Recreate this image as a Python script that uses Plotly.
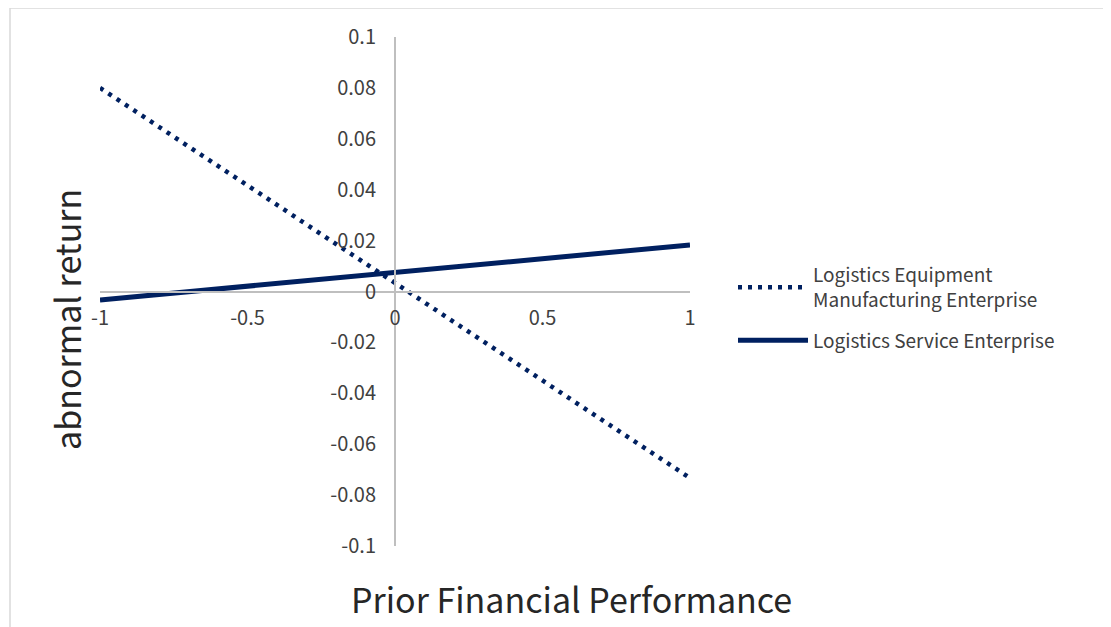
import plotly.graph_objects as go

# Data
x_vals = [-1, 0, 1]
equipment = [0.080, 0.0035, -0.0733]
service = [-0.0033, 0.0075, 0.0183]
series_names = ["Logistics Equipment<br>Manufacturing Enterprise", "Logistics Service Enterprise"]
x_ticks = [-1, -0.5, 0, 0.5, 1]
x_ticktext = ["-1", "-0.5", "0", "0.5", "1"]
y_ticks = [-0.1, -0.08, -0.06, -0.04, -0.02, 0, 0.02, 0.04, 0.06, 0.08, 0.1]
y_ticktext = ["-0.1", "-0.08", "-0.06", "-0.04", "-0.02", "0", "0.02", "0.04", "0.06", "0.08", "0.1"]

navy = "#002060"
font_family = "Noto Sans CJK SC, Noto Sans, sans-serif"

fig = go.Figure()
fig.add_trace(go.Scatter(x=x_vals, y=equipment, mode="lines", name=series_names[0],
                         legendgroup="a",
                         line=dict(color=navy, width=4.5, dash="4px,6px")))
fig.add_trace(go.Scatter(x=x_vals, y=service, mode="lines", name=series_names[1],
                         legendgroup="b",
                         line=dict(color=navy, width=5)))

fig.update_layout(
    width=1111, height=627,
    margin=dict(l=92, r=429, t=29, b=89, autoexpand=False),
    paper_bgcolor="white", plot_bgcolor="white",
    font=dict(family=font_family, color="#404040", size=20),
    xaxis=dict(range=[-1, 1], anchor="free", position=0.5, showgrid=False, zeroline=False,
               showline=True, linecolor="#bfbfbf", linewidth=2,
               tickmode="array", tickvals=x_ticks, ticktext=x_ticktext,
               ticks="outside", ticklen=8, tickcolor="rgba(0,0,0,0)",
               tickfont=dict(size=20, color="#404040")),
    yaxis=dict(range=[-0.1, 0.1], anchor="free", position=0.5, showgrid=False, zeroline=False,
               showline=True, linecolor="#bfbfbf", linewidth=2,
               tickmode="array", tickvals=y_ticks, ticktext=y_ticktext,
               ticks="outside", ticklen=14, tickcolor="rgba(0,0,0,0)",
               tickfont=dict(size=20, color="#404040")),
    legend=dict(x=(733 - 100) / 590, y=(546 - 256) / 509, xanchor="left", yanchor="top",
                font=dict(size=19, color="#404040"), bgcolor="rgba(0,0,0,0)",
                traceorder="grouped", tracegroupgap=13, itemwidth=70),
    showlegend=True,
)

fig.add_annotation(text="Prior Financial Performance", xref="paper", yref="paper",
                   x=(571 - 100) / 590, y=(546 - 598) / 509, xanchor="center", yanchor="middle",
                   showarrow=False, font=dict(size=34, color="#262626", family=font_family))
fig.add_annotation(text="abnormal return", xref="paper", yref="paper",
                   x=(66 - 100) / 590, y=(546 - 320) / 509, xanchor="center", yanchor="middle",
                   textangle=-90, showarrow=False,
                   font=dict(size=34, color="#262626", family=font_family))

# chart border
fig.add_shape(type="rect", xref="paper", yref="paper",
              x0=(10 - 100) / 590, x1=(1105 - 100) / 590,
              y0=(546 - 660) / 509, y1=(546 - 8) / 509,
              line=dict(color="#d9d9d9", width=1.5), layer="below")

fig.write_html("out.html")
